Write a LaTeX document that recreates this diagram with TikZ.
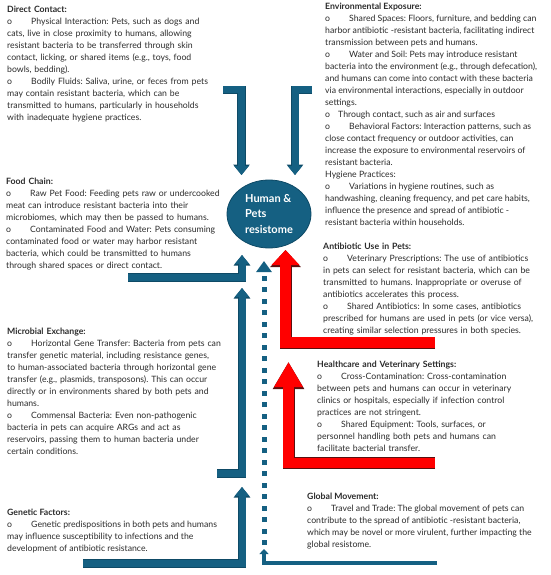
\documentclass[tikz,border=0pt]{standalone}
\usepackage{fontspec}
\setmainfont{Lato}
\usetikzlibrary{arrows.meta,calc,shapes.geometric}
\frenchspacing

\newcommand{\bul}{\makebox[24pt][l]{o}}
\newcommand{\jl}[1]{\makebox[\hsize][s]{#1}}

\begin{document}
\begin{tikzpicture}[x=1pt,y=-1pt,
  factor/.style={anchor=north west,inner sep=0pt,align=left,text=ptext,
    font=\fontsize{8.7}{12}\selectfont},
  hubnode/.style={ellipse,fill=pblue,draw=pbluedark,line width=0.8pt,
    minimum width=84pt,minimum height=68pt,inner sep=0pt,align=left,
    text=white,font=\bfseries\fontsize{11}{15.5}\selectfont},
  flow/.style={draw=pblue,line width=7pt,line join=miter,
    -{Triangle[width=14pt,length=9pt]},
    preaction={draw=pbluedark,line width=8.2pt,-{Triangle[width=16pt,length=10.5pt]}}},
  redflow/.style n args={2}{draw=pred,line width=10.5pt,line join=miter,
    -{Triangle[width=27pt,length=#1]},
    preaction={draw=preddark,line width=12pt,-{Triangle[width=29.5pt,length=#2]}}},
  dotflow/.style={draw=pblue,line width=5pt,dash pattern=on 5pt off 6.5pt,
    -{Triangle[width=15pt,length=11pt]}},
  thinflow/.style={draw=pblue,line width=4pt,line join=miter,
    -{Triangle[width=9pt,length=5pt]}}]

  \definecolor{pblue}{HTML}{156082} % arrows and hub
  \definecolor{pbluedark}{HTML}{0E4A66}
  \definecolor{pred}{HTML}{FF0000}
  \definecolor{preddark}{HTML}{5A1010}
  \definecolor{ptext}{HTML}{2B2B2B}

  \useasboundingbox (0,0) rectangle (550,575);

  % The hub
  \node[hubnode] (hub) at (269,214) {Human \&\\Pets\\resistome};

  % Left column
  \node[factor,text width=205pt] (direct) at (7,6) {\textbf{Direct Contact:}\\
    \jl{\bul Physical Interaction: Pets, such as dogs and}\\
    \jl{cats, live in close proximity to humans, allowing}\\
    \jl{resistant bacteria to be transferred through skin}\\
    \jl{contact, licking, or shared items (e.g., toys, food}\\
    bowls, bedding).\\
    \jl{\bul Bodily Fluids: Saliva, urine, or feces from pets}\\
    \jl{may contain resistant bacteria, which can be}\\
    \jl{transmitted to humans, particularly in households}\\
    with inadequate hygiene practices.};

  \node[factor,text width=212pt] (food) at (6,178) {\textbf{Food Chain:}\\
    \jl{\bul Raw Pet Food: Feeding pets raw or undercooked}\\
    \jl{meat can introduce resistant bacteria into their}\\
    \jl{microbiomes, which may then be passed to humans.}\\
    \jl{\bul Contaminated Food and Water: Pets consuming}\\
    \jl{contaminated food or water may harbor resistant}\\
    \jl{bacteria, which could be transmitted to humans}\\
    through shared spaces or direct contact.};

  \node[factor,text width=215pt] (microbial) at (7,328) {\textbf{Microbial Exchange:}\\
    \jl{\bul Horizontal Gene Transfer: Bacteria from pets can}\\
    \jl{transfer genetic material, including resistance genes,}\\
    \jl{to human-associated bacteria through horizontal gene}\\
    \jl{transfer (e.g., plasmids, transposons). This can occur}\\
    \jl{directly or in environments shared by both pets and}\\
    humans.\\
    \jl{\bul Commensal Bacteria: Even non-pathogenic}\\
    \jl{bacteria in pets can acquire ARGs and act as}\\
    \jl{reservoirs, passing them to human bacteria under}\\
    certain conditions.};

  \node[factor] (genetic) at (7,509) {\textbf{Genetic Factors:}\\
    \bul Genetic predispositions in both pets and humans\\
    may influence susceptibility to infections and the\\
    development of antibiotic resistance.};

  % Right column
  \node[factor] (environment) at (325,3) {\textbf{Environmental Exposure:}\\
    \bul Shared Spaces: Floors, furniture, and bedding can\\
    harbor antibiotic -resistant bacteria, facilitating indirect\\
    transmission between pets and humans.\\
    \bul Water and Soil: Pets may introduce resistant\\
    bacteria into the environment (e.g., through defecation),\\
    and humans can come into contact with  these bacteria\\
    via environmental interactions, especially in outdoor\\
    settings.\\
    \makebox[13pt][l]{o}Through contact, such as air and surfaces\\
    \bul Behavioral Factors: Interaction patterns, such as\\
    close contact frequency or outdoor activities, can\\
    increase the exposure to environmental reservoirs of\\
    resistant bacteria.\\
    Hygiene Practices:\\
    \bul Variations in hygiene routines, such as\\
    handwashing, cleaning frequency, and pet care habits,\\
    influence the presence and spread of antibiotic -\\
    resistant bacteria within households.};

  \node[factor,text width=214pt] (antibiotic) at (323,243) {\textbf{Antibiotic Use in Pets:}\\
    \jl{\bul Veterinary Prescriptions: The use of antibiotics}\\
    \jl{in pets can select for resistant bacteria, which can be}\\
    \jl{transmitted to humans. Inappropriate or overuse of}\\
    antibiotics accelerates this process.\\
    \jl{\bul Shared Antibiotics: In some cases, antibiotics}\\
    \jl{prescribed for humans are used in pets (or vice versa),}\\
    creating similar selection pressures in both species.};

  \node[factor,text width=215pt] (health) at (317,361) {\textbf{Healthcare and Veterinary Settings:}\\
    \jl{\bul Cross-Contamination: Cross-contamination}\\
    \jl{between pets and humans can occur in veterinary}\\
    \jl{clinics or hospitals, especially if infection control}\\
    practices are not stringent.\\
    \jl{\bul Shared Equipment: Tools, surfaces, or}\\
    \jl{personnel handling both pets and humans can}\\
    facilitate bacterial transfer.};

  \node[factor] (global) at (307,493) {\textbf{Global Movement:}\\
    \bul Travel and Trade: The global movement of pets can\\
    contribute to the spread of antibiotic -resistant bacteria,\\
    which may be novel or more virulent, further impacting the\\
    global resistome.};

  % Arrow ends
  \coordinate (dcIn) at (223,90);
  \coordinate (eeIn) at (312,90);
  \coordinate (fcIn) at (128,277.5);
  \coordinate (mxIn) at (217,473.5);
  \coordinate (gfIn) at (83,563.5);
  \coordinate (auIn) at (435,342.5);
  \coordinate (hcIn) at (435,463);
  \coordinate (gmIn) at (437,563);
  \coordinate (gmUp) at (264,549);
  \coordinate (dcTip) at ($(hub.center)+(-27.5,-39)$);
  \coordinate (eeTip) at ($(hub.center)+(26,-39)$);
  \coordinate (fcTip) at ($(hub.center)+(-27,41)$);
  \coordinate (gmTip) at ($(hub.center)+(-5,47)$);
  \coordinate (auTip) at ($(hub.center)+(16.5,36)$);
  \coordinate (mxTip) at (242,288);
  \coordinate (gfTip) at (242,487);
  \coordinate (hcTip) at (288.5,362);

  % Draw blue arrows
  \draw[flow] (dcIn) -| (dcTip);
  \draw[flow] (eeIn) -| (eeTip);
  \draw[flow] (fcIn) -| (fcTip);
  \draw[flow] (mxIn) -| (mxTip);
  \draw[flow] (gfIn) -| (gfTip);

  % Draw red arrows
  \draw[redflow={15pt}{17pt}] (auIn) -| (auTip);
  \draw[redflow={25pt}{27pt}] (hcIn) -| (hcTip);

  % Draw global movement line
  \draw[thinflow] (gmIn) -| (gmUp);
  \draw[dotflow] ($(gmUp)+(0,-4)$) -- (gmTip);

\end{tikzpicture}
\end{document}
